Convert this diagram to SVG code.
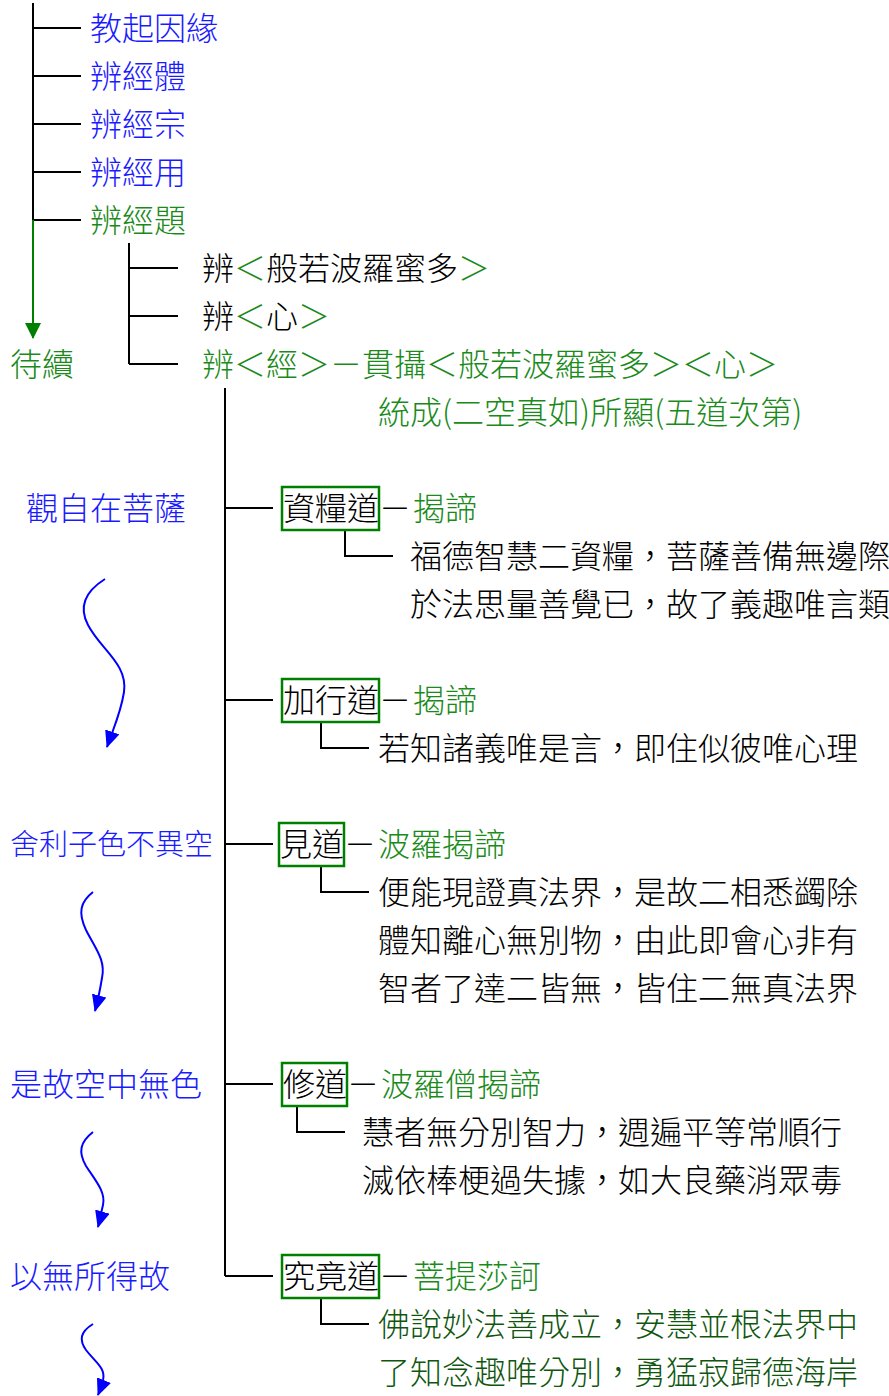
<svg xmlns="http://www.w3.org/2000/svg" width="889" height="1396" viewBox="0 0 889 1396">
<defs>
<style>
text{font-family:"Noto Sans CJK TC","Noto Sans CJK SC",sans-serif;font-size:32px;font-weight:300}
.b{fill:#1a1aff}.g{fill:#1a8a1a}.k{fill:#000}.dg{fill:#0f560f}
.ln{stroke:#000;stroke-width:2;fill:none}
.box{stroke:#008000;stroke-width:2.5;fill:none}
.cv{stroke:#0000ff;stroke-width:2;fill:none}
</style>
<marker id="ab" markerUnits="userSpaceOnUse" viewBox="0 0 17 15" markerWidth="17" markerHeight="15" refX="16" refY="7.5" orient="auto"><path d="M0,0 L17,7.5 L0,15 z" fill="#0000ff"/></marker>
<marker id="ag" markerUnits="userSpaceOnUse" viewBox="0 0 16 16" markerWidth="16" markerHeight="16" refX="15" refY="8" orient="auto"><path d="M0,0 L16,8 L0,16 z" fill="#008000"/></marker>
</defs>
<rect width="889" height="1396" fill="#fff"/>
<g id="connectors">
<path class="ln" d="M33,3 V220 M33,28 H81 M33,76 H81 M33,124 H81 M33,172 H81 M33,220 H81"/>
<path d="M33,220 V338" stroke="#008000" stroke-width="2" fill="none" marker-end="url(#ag)"/>
<path class="ln" d="M129,243 V364 M129,268 H178 M129,316 H178 M129,364 H178"/>
<path class="ln" d="M225,388 V1276 M225,508 H273 M225,700 H273 M225,844 H273 M225,1084 H273 M225,1276 H273"/>
<path class="ln" d="M345,530 V556 H393 M321,722 V748 H369 M321,866 V892 H369 M297,1106 V1132 H345 M321,1298 V1324 H369"/>
<path class="cv" marker-end="url(#ab)" d="M105,579 C86,591 78,606 88,625 C101,650 128,664 124,692 C121,712 114,727 107,747"/>
<path class="cv" marker-end="url(#ab)" d="M93,892 C80,902 78,913 86,930 C95,948 106,960 102,978 C100,990 98,1000 95,1011"/>
<path class="cv" marker-end="url(#ab)" d="M93,1132 C80,1142 78,1152 86,1166 C95,1180 106,1192 103,1205 C101,1213 100,1220 98,1227"/>
<path class="cv" marker-end="url(#ab)" d="M93,1324 C80,1332 79,1340 86,1350 C95,1362 106,1368 103,1380 C101,1387 100,1390 98,1395"/>
</g>
<g id="n-jiaoqi"><text class="b" x="90" y="40">教起因緣</text></g>
<g id="n-ti"><text class="b" x="90" y="88">辨經體</text></g>
<g id="n-zong"><text class="b" x="90" y="136">辨經宗</text></g>
<g id="n-yong"><text class="b" x="90" y="184">辨經用</text></g>
<g id="n-timu"><text class="g" x="90" y="232">辨經題</text></g>
<g id="n-daixu"><text class="g" x="10" y="376">待續</text></g>
<g id="n-bore"><text x="202" y="280"><tspan class="k">辨</tspan><tspan class="g">＜</tspan><tspan class="k">般若波羅蜜多</tspan><tspan class="g">＞</tspan></text></g>
<g id="n-xin"><text x="202" y="328"><tspan class="k">辨</tspan><tspan class="g">＜</tspan><tspan class="k">心</tspan><tspan class="g">＞</tspan></text></g>
<g id="n-jing"><text class="g" x="202" y="376">辨＜經＞－貫攝＜般若波羅蜜多＞＜心＞</text>
<text class="g" x="378" y="424">統成(二空真如)所顯(五道次第)</text></g>
<g id="n-l1"><text class="b" x="26" y="520">觀自在菩薩</text></g>
<g id="n-l2"><text class="b" x="10" y="855" style="font-size:29px">舍利子色不異空</text></g>
<g id="n-l3"><text class="b" x="10" y="1096">是故空中無色</text></g>
<g id="n-l4"><text class="b" x="10" y="1288">以無所得故</text></g>
<g id="n-ziliang">
<rect class="box" x="282" y="487" width="97" height="43"/>
<text class="k" x="283" y="520">資糧道</text><text class="k" x="379" y="520">－</text><text class="g" x="413" y="520">揭諦</text>
<text class="k" x="410" y="568">福德智慧二資糧，菩薩善備無邊際</text>
<text class="k" x="410" y="616">於法思量善覺已，故了義趣唯言類</text>
</g>
<g id="n-jiaxing">
<rect class="box" x="282" y="679" width="97" height="43"/>
<text class="k" x="283" y="712">加行道</text><text class="k" x="379" y="712">－</text><text class="g" x="413" y="712">揭諦</text>
<text class="k" x="378" y="760">若知諸義唯是言，即住似彼唯心理</text>
</g>
<g id="n-jian">
<rect class="box" x="279" y="823" width="65" height="43"/>
<text class="k" x="280" y="856">見道</text><text class="k" x="344" y="856">－</text><text class="g" x="378" y="856">波羅揭諦</text>
<text class="k" x="378" y="904">便能現證真法界，是故二相悉蠲除</text>
<text class="k" x="378" y="952">體知離心無別物，由此即會心非有</text>
<text class="k" x="378" y="1000">智者了達二皆無，皆住二無真法界</text>
</g>
<g id="n-xiu">
<rect class="box" x="282" y="1063" width="65" height="43"/>
<text class="k" x="283" y="1096">修道</text><text class="k" x="347" y="1096">－</text><text class="g" x="381" y="1096">波羅僧揭諦</text>
<text class="k" x="362" y="1144">慧者無分別智力，週遍平等常順行</text>
<text class="k" x="362" y="1192">滅依棒梗過失據，如大良藥消眾毒</text>
</g>
<g id="n-jiujing">
<rect class="box" x="282" y="1255" width="97" height="43"/>
<text class="k" x="283" y="1288">究竟道</text><text class="k" x="379" y="1288">－</text><text class="g" x="413" y="1288">菩提莎訶</text>
<text class="dg" x="378" y="1336">佛說妙法善成立，安慧並根法界中</text>
<text class="dg" x="378" y="1384">了知念趣唯分別，勇猛寂歸德海岸</text>
</g>
</svg>
